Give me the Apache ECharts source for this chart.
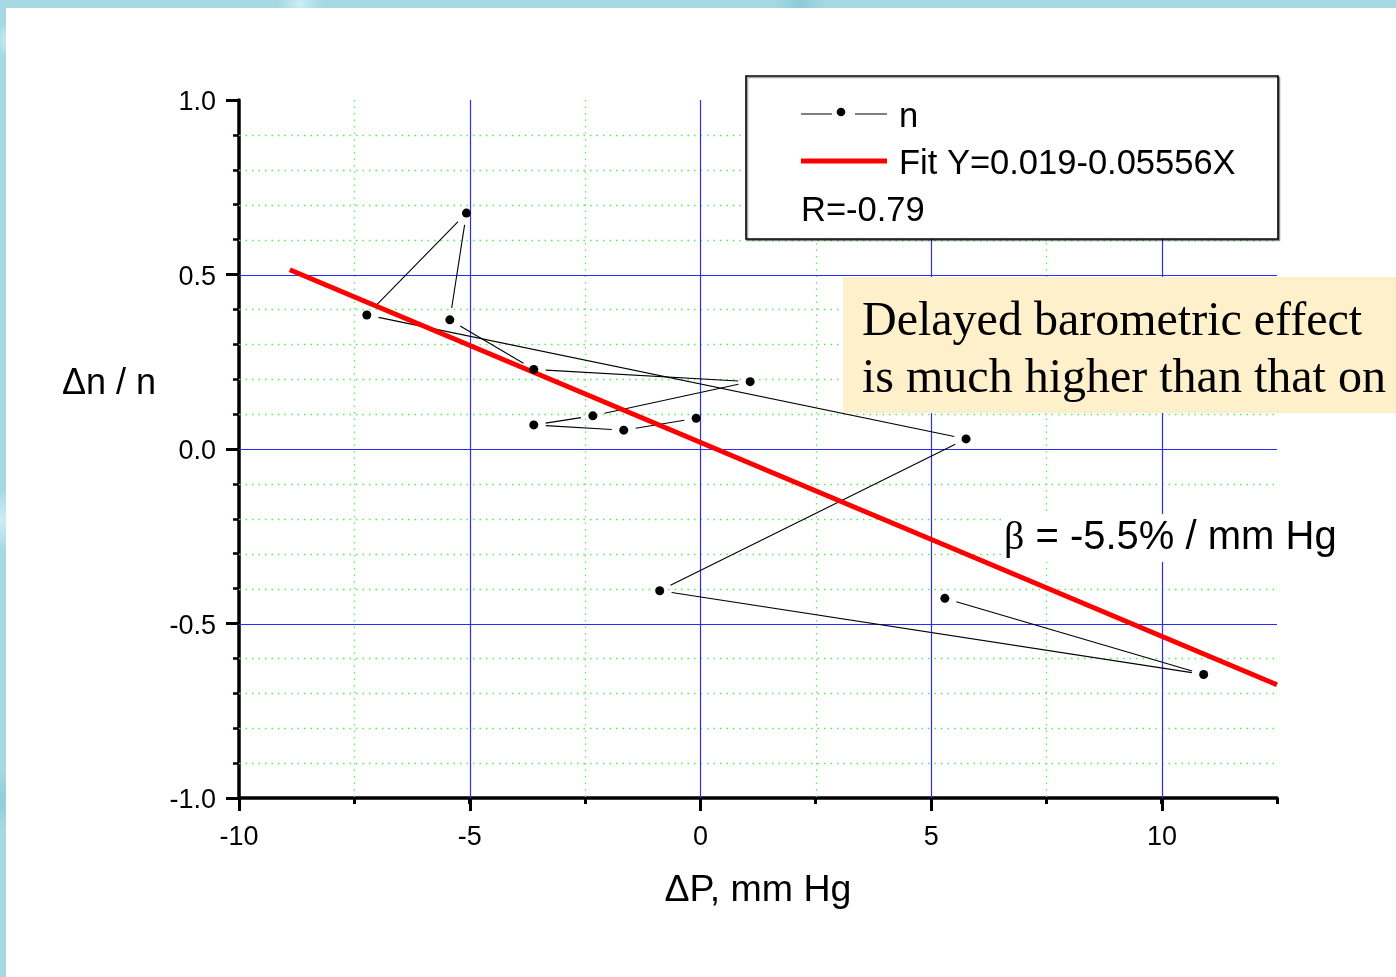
<!DOCTYPE html>
<html>
<head>
<meta charset="utf-8">
<title>Barometric effect</title>
<script src="https://cdn.jsdelivr.net/npm/echarts@6/dist/echarts.min.js"></script>
<style>
  html, body { margin: 0; padding: 0; width: 1396px; height: 977px; overflow: hidden; }
  body {
    background-color: #a6d9e4;
    background-image:
      radial-gradient(circle at 12px 40px, #d2f0f6 0, rgba(210,240,246,0) 18px),
      radial-gradient(circle at 300px 4px, #cdeef4 0, rgba(205,238,244,0) 22px),
      radial-gradient(circle at 800px 3px, #8ccbd9 0, rgba(140,203,217,0) 26px),
      radial-gradient(circle at 3px 520px, #cdeef4 0, rgba(205,238,244,0) 30px),
      radial-gradient(circle at 2px 800px, #8fcedb 0, rgba(143,206,219,0) 30px);
  }
  #sheet { position: absolute; left: 6px; top: 8px; right: 0; bottom: 0; background: #ffffff; }
  #chart { position: absolute; left: 0; top: 0; width: 1396px; height: 977px; }
</style>
</head>
<body>
<div id="sheet"></div>
<div id="chart"></div>
<script>
// Pressure deviation (mm Hg) and relative count deviation, in time order
const dP = [5.30, 10.91, -0.88, 5.76, -7.23, -5.07, -5.43, -3.61, 1.08, -2.33, -3.61, -1.66, -0.09];
const dn = [-0.428, -0.646, -0.406, 0.029, 0.384, 0.676, 0.370, 0.228, 0.193, 0.095, 0.069, 0.054, 0.088];

// Linear fit reported in the legend
const fitIntercept = 0.019;
const fitSlope = -0.05556;
const fitRange = [-8.9, 12.5];

// Axis ranges and gridline positions
const xRange = [-10, 12.5];
const yRange = [-1, 1];
const xMajorGrid = [-5, 0, 5, 10];
const xMinorGrid = [-7.5, -2.5, 2.5, 7.5];
const yMajorGrid = [-0.5, 0, 0.5];
const yMinorGrid = [-0.9, -0.8, -0.7, -0.6, -0.4, -0.3, -0.2, -0.1, 0.1, 0.2, 0.3, 0.4, 0.6, 0.7, 0.8, 0.9];

// Texts
const seriesName = 'n';
const fitLabel = 'Fit Y=0.019-0.05556X';
const corrLabel = 'R=-0.79';
const noteLines = ['Delayed barometric effect', 'is much higher than that on'];
const slopeText = '{b|β} = -5.5% / mm Hg';
const xTitle = 'ΔP, mm Hg';
const yTitle = 'Δn / n';

const SANS = '"Liberation Sans", Arial, Helvetica, sans-serif';
const SERIF = '"Liberation Serif", "Times New Roman", serif';

const chart = echarts.init(document.getElementById('chart'), null, { renderer: 'canvas' });

// gridline items: [value, direction (0 = vertical, 1 = horizontal), major flag]
const gridItems = []
  .concat(xMinorGrid.map(v => [v, 0, 0]))
  .concat(yMinorGrid.map(v => [v, 1, 0]))
  .concat(xMajorGrid.map(v => [v, 0, 1]))
  .concat(yMajorGrid.map(v => [v, 1, 1]));

function renderGridLine(params, api) {
  const cs = params.coordSys;
  const v = api.value(0), dir = api.value(1), major = api.value(2);
  let shape;
  if (dir === 0) {
    const x = Math.round(api.coord([v, 0])[0]) + 0.5;
    shape = { x1: x, y1: cs.y, x2: x, y2: cs.y + cs.height };
  } else {
    const y = Math.round(api.coord([0, v])[1]) + 0.5;
    shape = { x1: cs.x, y1: y, x2: cs.x + cs.width, y2: y };
  }
  const style = major
    ? { stroke: '#2b2bff', lineWidth: 1.2 }
    : { stroke: '#55ee55', lineWidth: 1.3, lineDash: [1.5, 5] };
  return { type: 'line', shape: shape, style: style, silent: true };
}

// connecting segments between consecutive points, with a gap around each marker
const segItems = dP.slice(0, -1).map((x, i) => [x, dn[i], dP[i + 1], dn[i + 1]]);
function renderSegment(params, api) {
  const a = api.coord([api.value(0), api.value(1)]);
  const b = api.coord([api.value(2), api.value(3)]);
  const dx = b[0] - a[0], dy = b[1] - a[1];
  const len = Math.hypot(dx, dy);
  const gap = 12;
  if (len <= 2 * gap) return null;
  const ux = dx / len, uy = dy / len;
  return {
    type: 'line',
    shape: { x1: a[0] + ux * gap, y1: a[1] + uy * gap, x2: b[0] - ux * gap, y2: b[1] - uy * gap },
    style: { stroke: '#000', lineWidth: 1.1 }
  };
}

const fitData = fitRange.map(x => [x, fitIntercept + fitSlope * x]);
const pointData = dP.map((x, i) => [x, dn[i]]);

const tickLabel = { color: '#000', fontFamily: SANS, fontSize: 27 };

const option = {
  backgroundColor: 'transparent',
  animation: false,
  grid: [
    { left: 239, top: 100, width: 1038, height: 698 },
    { left: 239, top: 100, width: 923, height: 698 }
  ],
  xAxis: [
    {
      gridIndex: 0, type: 'value', min: xRange[0], max: xRange[1], interval: 2.5,
      axisLine: { onZero: false, lineStyle: { color: '#000', width: 3.5 } },
      axisTick: { length: 6, lineStyle: { color: '#000', width: 3 } },
      axisLabel: { show: false },
      splitLine: { show: false },
      name: xTitle, nameLocation: 'middle', nameGap: 74,
      nameTextStyle: { color: '#000', fontFamily: SANS, fontSize: 37.5 }
    },
    {
      gridIndex: 1, type: 'value', min: -10, max: 10, interval: 5,
      axisLine: { show: false, onZero: false },
      axisTick: { length: 13, lineStyle: { color: '#000', width: 3 } },
      axisLabel: Object.assign({ margin: 26 }, tickLabel),
      splitLine: { show: false }
    }
  ],
  yAxis: [
    {
      gridIndex: 0, type: 'value', min: yRange[0], max: yRange[1], interval: 0.5,
      axisLine: { onZero: false, lineStyle: { color: '#000', width: 3.5 } },
      axisTick: { length: 13, lineStyle: { color: '#000', width: 3 } },
      minorTick: { show: true, splitNumber: 5, length: 6, lineStyle: { color: '#000', width: 2.5 } },
      axisLabel: Object.assign({ margin: 23, verticalAlign: 'top', lineHeight: 6, formatter: v => v.toFixed(1) }, tickLabel),
      splitLine: { show: false }
    },
    { gridIndex: 1, type: 'value', min: yRange[0], max: yRange[1], show: false }
  ],
  series: [
    {
      type: 'custom', name: 'grid', xAxisIndex: 0, yAxisIndex: 0,
      renderItem: renderGridLine, data: gridItems, clip: false, silent: true, z: 1
    },
    {
      type: 'custom', name: seriesName, xAxisIndex: 0, yAxisIndex: 0,
      renderItem: renderSegment, data: segItems, encode: { x: [0, 2], y: [1, 3] }, z: 2
    },
    {
      type: 'line', name: fitLabel, xAxisIndex: 0, yAxisIndex: 0, data: fitData,
      symbol: 'none', lineStyle: { color: '#ff0000', width: 5 }, z: 3
    },
    {
      type: 'scatter', name: seriesName, xAxisIndex: 0, yAxisIndex: 0, data: pointData,
      symbol: 'circle', symbolSize: 9, itemStyle: { color: '#000', opacity: 1 }, z: 4
    }
  ],
  graphic: [
    // legend box
    { type: 'rect', z: 50, shape: { x: 746, y: 76, width: 532, height: 163 },
      style: { fill: '#fff', stroke: '#000', lineWidth: 1.6,
               shadowColor: 'rgba(0,0,0,0.35)', shadowOffsetX: 1.5, shadowOffsetY: 1.5 } },
    { type: 'line', z: 51, shape: { x1: 801, y1: 114, x2: 832, y2: 114 }, style: { stroke: '#000', lineWidth: 1 } },
    { type: 'circle', z: 51, shape: { cx: 841, cy: 112, r: 4.3 }, style: { fill: '#000' } },
    { type: 'line', z: 51, shape: { x1: 855, y1: 114, x2: 887, y2: 114 }, style: { stroke: '#000', lineWidth: 1 } },
    { type: 'text', z: 51, x: 899, y: 117, style: { text: seriesName, font: '34.5px ' + SANS, fill: '#000', verticalAlign: 'middle' } },
    { type: 'line', z: 51, shape: { x1: 801, y1: 161, x2: 887, y2: 161 }, style: { stroke: '#ff0000', lineWidth: 5 } },
    { type: 'text', z: 51, x: 899, y: 164, style: { text: fitLabel, font: '34.5px ' + SANS, fill: '#000', verticalAlign: 'middle' } },
    { type: 'text', z: 51, x: 801, y: 211, style: { text: corrLabel, font: '34.5px ' + SANS, fill: '#000', verticalAlign: 'middle' } },

    // note panel
    { type: 'rect', z: 50, shape: { x: 843, y: 277, width: 560, height: 136 }, style: { fill: '#fdf0ca' } },
    { type: 'text', z: 51, x: 862, y: 322, style: { text: noteLines[0], font: '48px ' + SERIF, fill: '#000', verticalAlign: 'middle' } },
    { type: 'text', z: 51, x: 862, y: 379, style: { text: noteLines[1], font: '48px ' + SERIF, fill: '#000', verticalAlign: 'middle' } },

    // slope annotation
    { type: 'text', z: 51, x: 1002, y: 538,
      style: { text: slopeText, font: '40px ' + SANS, fill: '#000', verticalAlign: 'middle',
               backgroundColor: '#fff', padding: [4, 4, 4, 2],
               rich: { b: { fontFamily: SERIF, fontSize: 40 } } } },

    // y axis title
    { type: 'text', z: 51, x: 62, y: 384, style: { text: yTitle, font: '36px ' + SANS, fill: '#000', verticalAlign: 'middle' } }
  ]
};

chart.setOption(option);
</script>
</body>
</html>
